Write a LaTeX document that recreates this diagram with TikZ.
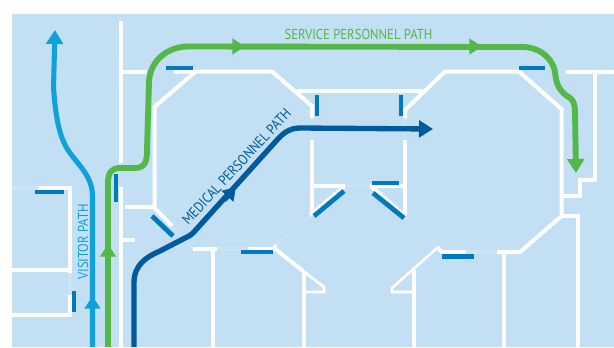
\documentclass[tikz,border=0pt]{standalone}
\usepackage{fontspec}
\setmainfont{PT Sans}
\newfontfamily\pathfont[FakeStretch=0.88]{PT Sans}
\usetikzlibrary{arrows.meta}
\definecolor{floorblue}{HTML}{C3DFF4}
\definecolor{doorlight}{HTML}{CBE3F6}
\definecolor{doorblue}{HTML}{0079C1}
\definecolor{visitorblue}{HTML}{10A0DC}
\definecolor{servicegreen}{HTML}{53B848}
\definecolor{medicalblue}{HTML}{005A9C}

\begin{document}
\begin{tikzpicture}[
                    x=0.75pt, y=-0.75pt,
                    wall/.style={draw=white, line width=3pt, line join=miter},
                    thinwall/.style={draw=white, line width=2pt, line join=miter},
                    doorway/.style={draw=doorlight, line width=2.6pt},
                    faintway/.style={draw=doorlight, line width=1.6pt},
                    door/.style={draw=doorblue, line width=3.6pt},
                    route/.style={line join=round},
                    visitor/.style={route, draw=visitorblue, line width=3.8pt},
                    service/.style={route, draw=servicegreen, line width=4.4pt},
                    medical/.style={route, draw=medicalblue, line width=4pt},
                    headed/.style={-{Triangle[length=10.5pt, width=12.5pt]}},
                    midheaded/.style={-{Triangle[length=9.5pt, width=11.5pt]}},
                    pathlabel/.style={font=\pathfont\fontsize{10.8}{12}\selectfont, inner sep=0pt}
                    ]
    \useasboundingbox (0,0) rectangle (614,347);
    \fill[floorblue] (12,14) rectangle (614,347);

    % doorways
    \draw[doorway] (12,188) -- (38,188);
    \draw[doorway] (70,273) -- (70,295);
    \draw[faintway] (172,226) -- (193,249);
    \draw[doorway] (217,249) -- (248,249);
    \draw[faintway] (276,245) -- (312,215);
    \draw[faintway] (345,186) -- (370,186);
    \draw[faintway] (405,216) -- (437,247);
    \draw[doorway] (466,252) -- (497,252);
    \draw[faintway] (312,118) -- (312,140);
    \draw[faintway] (405,118) -- (405,140);

    % walls, left block
    \draw[wall] (38,188) -- (70,188) -- (70,273);
    \draw[wall] (12,270) -- (70,270);
    \draw[wall] (70,295) -- (70,315) -- (12,315);
    \draw[wall] (121,21) -- (121,163);
    \draw[wall] (121,187) -- (121,347);
    \draw[wall] (121,71.5) -- (147,71.5);
    \draw[wall] (121,239.5) -- (135,239.5);
    % walls, left octagon
    \draw[wall] (174,71.5) -- (272,71.5) -- (312,106) -- (312,118);
    \draw[wall] (195,72) -- (154.5,107) -- (154.5,208) -- (172,226);
    \draw[wall] (125,206.5) -- (154.5,206.5);
    \draw[wall] (193,249) -- (217,249);
    \draw[wall] (213,249) -- (213,347);
    \draw[wall] (248,249) -- (274,249) -- (276,245);
    \draw[wall] (274,248) -- (303,271);
    \draw[thinwall] (303,271) -- (324,287) -- (324,292) -- (304,292);
    \draw[wall] (304,271) -- (304,347);
    % walls, centre
    \draw[wall] (297,91) -- (422,91);
    \draw[wall] (312,140) -- (312,215);
    \draw[wall] (405,140) -- (405,216);
    \draw[wall] (312,186) -- (345,186);
    \draw[wall] (370,186) -- (405,186);
    \draw[wall] (344,187) -- (310,215);
    \draw[wall] (372,187) -- (405,216);
    % walls, right octagon
    \draw[wall] (405,118) -- (405,110) -- (445,71.5) -- (519,71.5) -- (561.5,109) -- (561.5,216) -- (520,252) -- (497,252);
    \draw[wall] (466,252) -- (442,252) -- (437,247);
    \draw[thinwall] (437,248) -- (392,288) -- (392,292) -- (414,292);
    \draw[wall] (414,270) -- (414,347);
    \draw[wall] (504,252) -- (504,347);
    \draw[wall] (561.5,216) -- (578,216) -- (578,347);
    \draw[wall] (561.5,195.5) -- (580,195.5) -- (580,180) -- (595,180) -- (595,71.5);
    \draw[wall] (566,71.5) -- (614,71.5);

    % blue doors
    \draw[door] (35,192) -- (64,192);
    \draw[door] (74,291) -- (74,312);
    \draw[door] (116,174) -- (116,202);
    \draw[door] (152,216) -- (173,236);
    \draw[door] (241,252) -- (273,252);
    \draw[door] (166,68) -- (193,68);
    \draw[door] (519,68) -- (545,68);
    \draw[door] (317,95) -- (317,116);
    \draw[door] (401,95) -- (401,116);
    \draw[door] (314,216) -- (344,191);
    \draw[door] (373,193) -- (404,218);
    \draw[door] (372,183) -- (399,183);
    \draw[door] (442,256.5) -- (474,256.5);

    % routes
    \draw[visitor, headed] (92.5,347) -- (92.5,196) .. controls (92.5,176) and (78,165) .. (68,150)
        .. controls (58,135) and (55,110) .. (53.5,87) -- (55,30);
    \draw[service, headed] (108,347) -- (108,183) .. controls (108,172) and (112,168) .. (120,168)
        -- (135,168) .. controls (146,168) and (147,160) .. (147,150) -- (149,82)
        .. controls (150,60) and (168,47) .. (187,46.5) -- (524,47)
        .. controls (542,48) and (553,60) .. (555,72) .. controls (556,85) and (560,92) .. (570,98)
        .. controls (574,101) and (575,106) .. (575,112) -- (576,173);
    \draw[medical, headed] (134,347) -- (134,283) .. controls (134,265) and (146,257) .. (160,251)
        -- (185,238) .. controls (189,236) and (191,235) .. (193,233) -- (277,140)
        .. controls (283,133) and (290,128) .. (300,128) -- (433,129);

    % middle arrow heads
    \draw[visitor, midheaded] (92.5,310) -- (92.5,296);
    \draw[service, midheaded] (108,258) -- (108,244);
    \draw[service, midheaded] (230,46.5) -- (245,46.5);
    \draw[service, midheaded] (468,46.5) -- (482,46.5);
    \draw[medical, midheaded] (224,200) -- (236,187);

    % labels
    \node[pathlabel, text=servicegreen] (servicelabel) at (358.5,34) {SERVICE PERSONNEL PATH};
    \node[pathlabel, text=visitorblue, rotate=90] (visitorlabel) at (83,242) {VISITOR PATH};
    \node[pathlabel, text=medicalblue, rotate=47] (medicallabel) at (236.5,166.5) {MEDICAL PERSONNEL PATH};
\end{tikzpicture}
\end{document}
